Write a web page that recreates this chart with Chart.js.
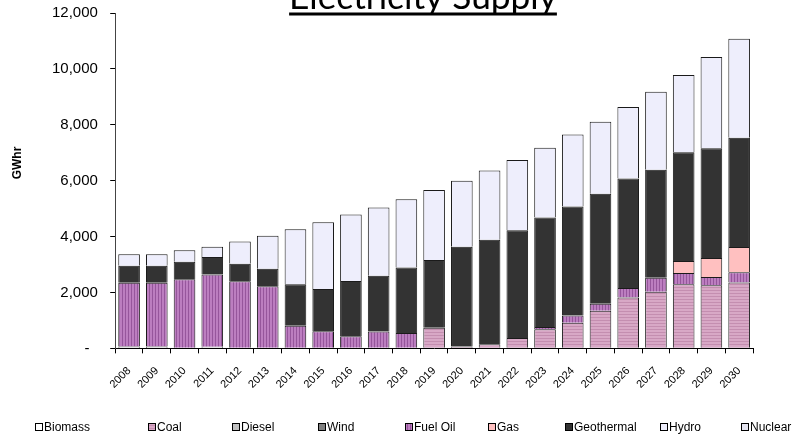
<!DOCTYPE html>
<html>
<head>
<meta charset="utf-8">
<title>Electricity Supply</title>
<script src="https://cdn.jsdelivr.net/npm/chart.js@4.4.0/dist/chart.umd.min.js"></script>
<style>
  html, body { margin: 0; padding: 0; background: #fff; }
  #wrap { width: 793px; height: 445px; }
</style>
</head>
<body>
<div id="wrap"><canvas id="supplyChart" width="793" height="445"></canvas></div>
<script>
// years on the x axis
const years = ['2008', '2009', '2010', '2011', '2012', '2013', '2014', '2015', '2016', '2017', '2018', '2019',
               '2020', '2021', '2022', '2023', '2024', '2025', '2026', '2027', '2028', '2029', '2030'];

// GWhr per source (null = no segment)
const biomass = [70, 70, null, 60, 20, 20, null, null, null, null, null, null,
                 null, null, null, null, null, null, null, null, null, null, null];
const coal = [null, null, null, null, null, null, null, null, null, null, null, 740,
              70, 150, 370, 680, 920, 1350, 1820, 2030, 2290, 2260, 2360];
const diesel = Array(years.length).fill(null);
const wind = Array(years.length).fill(null);
const fuelOil = [2280, 2280, 2470, 2580, 2380, 2200, 810, 610, 430, 600, 550, null,
                 null, null, null, 80, 260, 250, 340, 500, 410, 290, 360];
const gas = [null, null, null, null, null, null, null, null, null, null, null, null,
             null, null, null, null, null, null, null, null, 430, 680, 910];
const geothermal = [610, 610, 630, 630, 630, 630, 1480, 1510, 1980, 2000, 2340, 2420,
                    3570, 3740, 3860, 3920, 3900, 3930, 3920, 3860, 3890, 3930, 3910];
const hydro = [410, 410, 410, 370, 790, 1180, 1970, 2390, 2380, 2440, 2450, 2510,
               2360, 2470, 2510, 2500, 2570, 2580, 2560, 2790, 2760, 3270, 3540];
const nuclear = Array(years.length).fill(null);

const yTicks = [0, 2000, 4000, 6000, 8000, 10000, 12000];

// legend layout (left edge of each legend box)
const legendX = [35, 148, 232, 318, 405, 488, 565, 660, 741];

function stripes(base, line, vertical) {
    const c = document.createElement('canvas');
    c.width = vertical ? 3 : 1;
    c.height = vertical ? 1 : 3;
    const g = c.getContext('2d');
    g.fillStyle = base;
    g.fillRect(0, 0, c.width, c.height);
    g.fillStyle = line;
    if (vertical) g.fillRect(2, 0, 1, 1);
    else g.fillRect(0, 2, 1, 1);
    return g.createPattern(c, 'repeat');
}

const fuelOilFill = stripes('#BC7EC0', '#96569C', true);
const coalFill = stripes('#D8A8C6', '#C48EB0', false);

const series = [
    { label: 'Biomass', data: biomass, color: '#FFFFFF' },
    { label: 'Coal', data: coal, color: coalFill },
    { label: 'Diesel', data: diesel, color: '#C0C0C0' },
    { label: 'Wind', data: wind, color: '#808080' },
    { label: 'Fuel Oil', data: fuelOil, color: fuelOilFill },
    { label: 'Gas', data: gas, color: '#FFC0C0' },
    { label: 'Geothermal', data: geothermal, color: '#333333' },
    { label: 'Hydro', data: hydro, color: '#EEEEFC' },
    { label: 'Nuclear', data: nuclear, color: '#E4E4F0' }
];

// title, rotated axis title and the bottom legend
const decorPlugin = {
    id: 'decor',
    afterDraw(chart) {
        const ctx = chart.ctx;
        ctx.save();

        // title, clipped at the top like the original
        const title = 'Electricity Supply';
        ctx.font = '29px Lato, "Open Sans", sans-serif';
        let w = ctx.measureText(title).width;
        const size = 29 * 268 / w;
        ctx.font = size.toFixed(1) + 'px Lato, "Open Sans", sans-serif';
        w = ctx.measureText(title).width;
        const tx = 423 - w / 2;
        ctx.fillStyle = '#000';
        ctx.textAlign = 'left';
        ctx.textBaseline = 'alphabetic';
        ctx.fillText(title, tx, 9);
        ctx.fillRect(tx, 12.5, w, 3);

        // y axis title
        ctx.save();
        ctx.translate(18, 163);
        ctx.rotate(-Math.PI / 2);
        ctx.font = 'bold 12px "Liberation Sans", Arial, sans-serif';
        ctx.textAlign = 'center';
        ctx.textBaseline = 'middle';
        ctx.fillText('GWhr', 0, 0);
        ctx.restore();

        // legend
        ctx.font = '12px "Liberation Sans", Arial, sans-serif';
        ctx.textBaseline = 'middle';
        ctx.textAlign = 'left';
        chart.data.datasets.forEach((ds, i) => {
            const x = legendX[i];
            const y = 427;
            ctx.fillStyle = ds.backgroundColor;
            ctx.fillRect(x + 0.5, y - 3.5, 7, 7);
            ctx.strokeStyle = '#000';
            ctx.lineWidth = 1;
            ctx.strokeRect(x + 0.5, y - 3.5, 7, 7);
            ctx.fillStyle = '#000';
            ctx.fillText(ds.label, x + 9, y + 0.5);
        });

        ctx.restore();
    }
};

const ctx = document.getElementById('supplyChart').getContext('2d');
new Chart(ctx, {
    type: 'bar',
    data: {
        labels: years,
        datasets: series.map(s => ({
            label: s.label,
            data: s.data,
            backgroundColor: s.color,
            borderColor: '#1a1a1a',
            borderWidth: 1,
            barPercentage: 0.78,
            categoryPercentage: 1.0
        }))
    },
    options: {
        responsive: false,
        animation: false,
        layout: {
            padding: { left: 48, right: 40, top: 13, bottom: 43 }
        },
        plugins: {
            legend: { display: false },
            title: { display: false },
            tooltip: { enabled: false }
        },
        scales: {
            x: {
                stacked: true,
                ticks: {
                    autoSkip: false,
                    minRotation: 45,
                    maxRotation: 45,
                    padding: 11,
                    color: '#000',
                    font: { family: '"Liberation Sans", Arial, sans-serif', size: 11 }
                },
                grid: {
                    offset: true,
                    drawOnChartArea: false,
                    tickLength: 5,
                    color: '#000'
                },
                border: { color: '#000', width: 1 }
            },
            y: {
                stacked: true,
                min: 0,
                max: 12000,
                afterBuildTicks: (axis) => {
                    axis.ticks = yTicks.map(v => ({ value: v }));
                },
                ticks: {
                    // small padding keeps the top of the axis high; trailing spaces make the gap
                    padding: 4,
                    color: '#000',
                    font: { family: '"Liberation Sans", Arial, sans-serif', size: 15 },
                    callback: (value) => value === 0 ? '-    ' : value.toLocaleString('en-US') + '  '
                },
                grid: {
                    drawOnChartArea: false,
                    tickLength: 5,
                    color: '#000'
                },
                border: { color: '#444', width: 1 }
            }
        }
    },
    plugins: [decorPlugin]
});
</script>
</body>
</html>
